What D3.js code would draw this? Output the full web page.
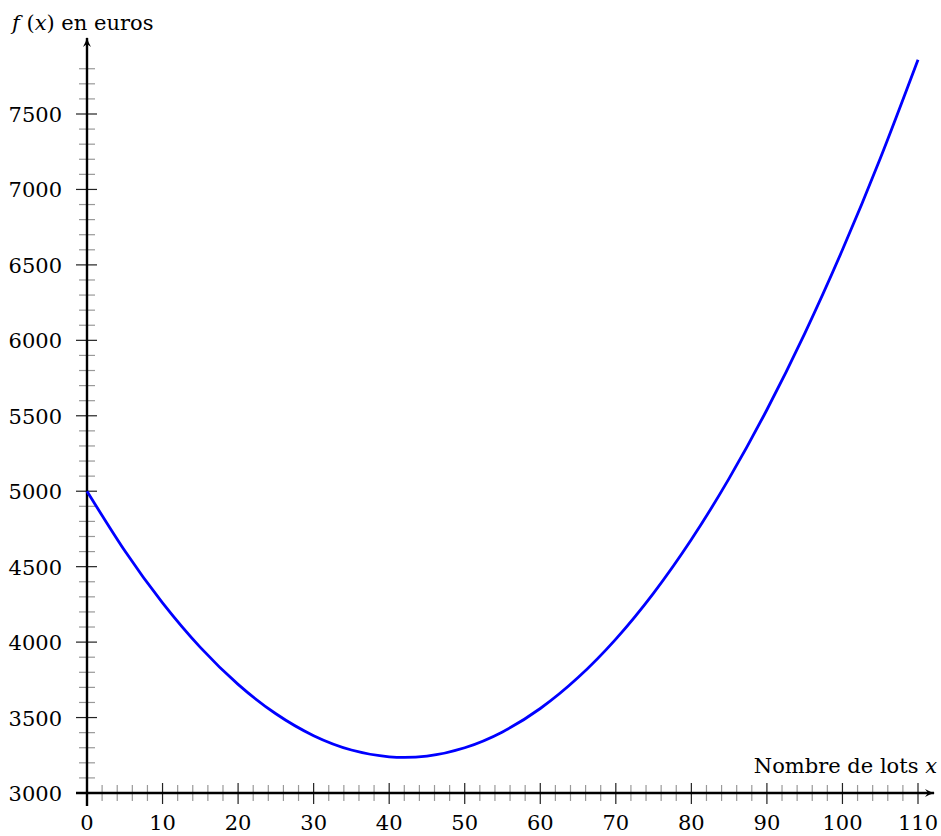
<!DOCTYPE html>
<html><head><meta charset="utf-8">
<script src="https://cdn.jsdelivr.net/npm/d3@7"></script>
<style>body{margin:0;background:#fff}svg{display:block}text{font-family:"DejaVu Serif","Liberation Serif",serif;fill:#000}</style>
</head><body>
<script>
// Values
const xs = [0,5,10,15,20,25,30,35,40,45,50,55,60,65,70,75,80,85,90,95,100,105,110];
const fx = [5000,4605,4260,3965,3720,3525,3380,3285,3240,3245,3300,3405,3560,3765,4020,4325,4680,5085,5540,6045,6600,7205,7860];
const xTicks = [0,10,20,30,40,50,60,70,80,90,100,110];
const yTicks = [3000,3500,4000,4500,5000,5500,6000,6500,7000,7500];
const xLabel = "Nombre de lots ";
const yLabel = " en euros";

const W = 941, H = 836;
const svg = d3.select("body").append("svg").attr("width", W).attr("height", H);
const x = d3.scaleLinear().domain([0,110]).range([87,918]);
const y = d3.scaleLinear().domain([3000,7500]).range([793,114]);
const FS = 21;

// minor ticks
const xMinor = d3.range(2,112,2).filter(v=>v%10!==0);
const yMinor = d3.range(3100,7900,100).filter(v=>v%500!==0);
svg.append("g").selectAll("line").data(xMinor).join("line")
  .attr("x1",d=>x(d)).attr("x2",d=>x(d)).attr("y1",y(3000)-8).attr("y2",y(3000)+8)
  .attr("stroke","#999").attr("stroke-width",1.2);
svg.append("g").selectAll("line").data(yMinor).join("line")
  .attr("y1",d=>y(d)).attr("y2",d=>y(d)).attr("x1",x(0)-8).attr("x2",x(0)+8)
  .attr("stroke","#999").attr("stroke-width",1.2);
// major ticks
svg.append("g").selectAll("line").data(xTicks).join("line")
  .attr("x1",d=>x(d)).attr("x2",d=>x(d)).attr("y1",y(3000)-10).attr("y2",y(3000)+11)
  .attr("stroke","#222").attr("stroke-width",1.2);
svg.append("g").selectAll("line").data(yTicks).join("line")
  .attr("y1",d=>y(d)).attr("y2",d=>y(d)).attr("x1",x(0)-11).attr("x2",x(0)+10)
  .attr("stroke","#222").attr("stroke-width",1.2);

// axes
svg.append("defs").append("marker").attr("id","arr").attr("viewBox","0 0 10 10")
  .attr("refX",9).attr("refY",5).attr("markerWidth",10).attr("markerHeight",10)
  .attr("markerUnits","userSpaceOnUse").attr("orient","auto")
  .append("path").attr("d","M0,1 Q5,4 10,5 Q5,6 0,9 L3,5 Z").attr("fill","#000");
svg.append("line").attr("x1",76).attr("x2",934).attr("y1",y(3000)).attr("y2",y(3000))
  .attr("stroke","#000").attr("stroke-width",2.4).attr("marker-end","url(#arr)");
svg.append("line").attr("x1",x(0)).attr("x2",x(0)).attr("y1",806).attr("y2",38)
  .attr("stroke","#000").attr("stroke-width",2.4).attr("marker-end","url(#arr)");

// tick labels
svg.append("g").selectAll("text").data(xTicks).join("text")
  .attr("x",d=>x(d)).attr("y",830).attr("text-anchor","middle").attr("font-size",FS).text(d=>d);
svg.append("g").selectAll("text").data(yTicks).join("text")
  .attr("x",62).attr("y",d=>y(d)+8).attr("text-anchor","end").attr("font-size",FS).text(d=>d);

// axis labels
const t1 = svg.append("text").attr("x",12).attr("y",30).attr("font-size",FS);
t1.append("tspan").attr("font-style","italic").text("f");
t1.append("tspan").text(" (");
t1.append("tspan").attr("font-style","italic").text("x");
t1.append("tspan").text(")"+yLabel);
const t2 = svg.append("text").attr("x",937).attr("y",773).attr("font-size",FS).attr("text-anchor","end");
t2.append("tspan").text(xLabel);
t2.append("tspan").attr("font-style","italic").text("x");

// curve
const line = d3.line().x((d,i)=>x(xs[i])).y(d=>y(d)).curve(d3.curveNatural);
svg.append("path").datum(fx).attr("d",line).attr("fill","none")
  .attr("stroke","#0000ff").attr("stroke-width",2.8);
</script>
</body></html>
